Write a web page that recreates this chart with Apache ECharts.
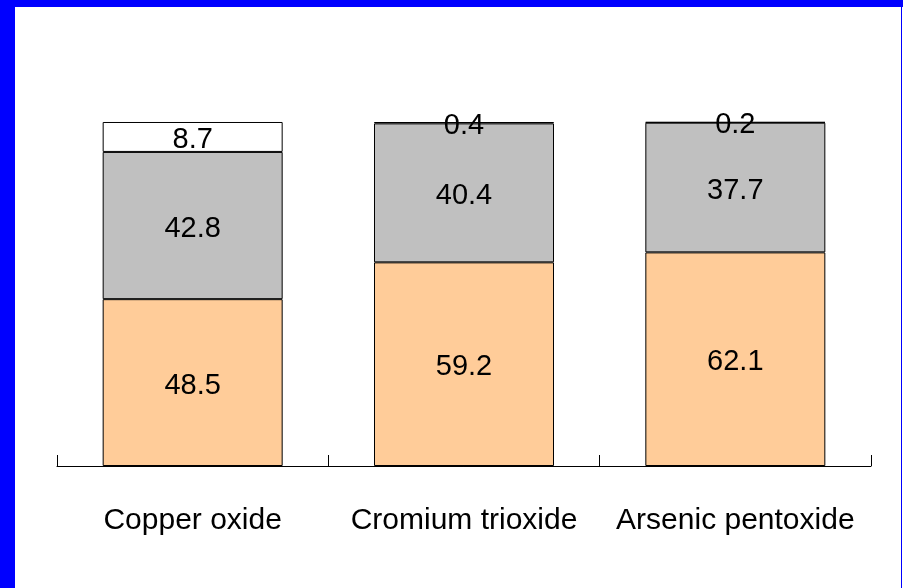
<!DOCTYPE html>
<html>
<head>
<meta charset="utf-8">
<script src="https://cdn.jsdelivr.net/npm/echarts@6/dist/echarts.min.js"></script>
<style>
html,body{margin:0;padding:0;background:#fff;}
#chart{width:903px;height:588px;}
</style>
</head>
<body>
<div id="chart"></div>
<script>
const categories = ['Copper oxide', 'Cromium trioxide', 'Arsenic pentoxide'];
const seriesA = [48.5, 59.2, 62.1];
const seriesB = [42.8, 40.4, 37.7];
const seriesC = [8.7, 0.4, 0.2];

const chart = echarts.init(document.getElementById('chart'));
const font = 'Liberation Sans';
const labelStyle = {
  show: true,
  position: 'inside',
  offset: [0, 3],
  color: '#000',
  fontFamily: font,
  fontSize: 29,
  formatter: p => p.value.toFixed(1)
};
function mk(name, data, color) {
  return {
    name, type: 'bar', stack: 'total', data,
    barWidth: 180,
    itemStyle: { color, borderColor: '#000', borderWidth: 1 },
    label: labelStyle,
    emphasis: { disabled: true }
  };
}
chart.setOption({
  animation: false,
  backgroundColor: '#fff',
  grid: { left: 57, right: 32, top: 122, bottom: 122 },
  xAxis: {
    type: 'category',
    data: categories,
    axisLine: { lineStyle: { color: '#000', width: 1 } },
    axisTick: { show: true, inside: true, interval: 0, length: 11, lineStyle: { color: '#000' } },
    axisLabel: { color: '#000', fontFamily: font, fontSize: 30, margin: 40, interval: 0 }
  },
  yAxis: {
    type: 'value', min: 0, max: 100, show: false,
    splitLine: { show: false }
  },
  series: [
    mk('A', seriesA, '#FFCC99'),
    mk('B', seriesB, '#C0C0C0'),
    mk('C', seriesC, '#FFFFFF')
  ],
  graphic: [
    { type: 'rect', shape: { x: 0, y: 0, width: 903, height: 7 }, style: { fill: '#0000FF' }, z: 100 },
    { type: 'rect', shape: { x: 0, y: 0, width: 15, height: 588 }, style: { fill: '#0000FF' }, z: 100 },
    { type: 'rect', shape: { x: 901, y: 0, width: 1, height: 588 }, style: { fill: '#0000FF' }, z: 100 }
  ]
});
</script>
</body>
</html>
